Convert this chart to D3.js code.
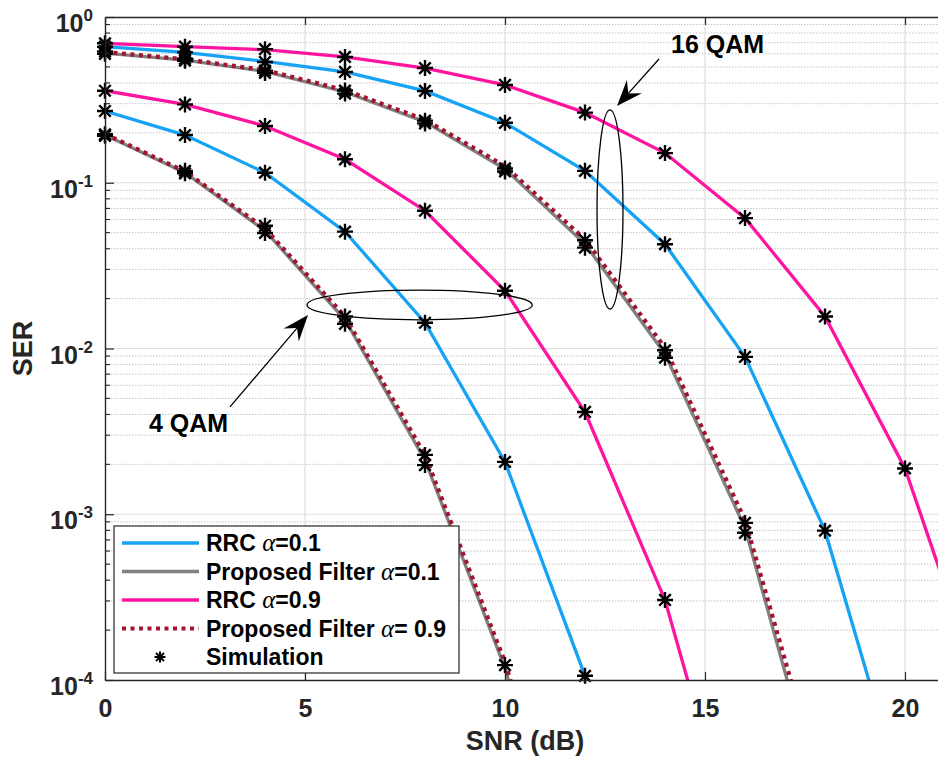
<!DOCTYPE html>
<html>
<head>
<meta charset="utf-8">
<script src="https://cdn.jsdelivr.net/npm/d3@7"></script>
<style>
    body { margin: 0; background: #fff; }
    svg { display: block; font-family: "Liberation Sans", Arial, Helvetica, sans-serif; }
</style>
</head>
<body>
<div id="chart"></div>
<script>
// SNR grid (dB), theory curves are sampled every 2 dB
var snrGrid = [0, 2, 4, 6, 8, 10, 12, 14, 16, 18, 20, 22];

// 4 QAM theory curves
var qam4Rrc01  = [0.271, 0.194, 0.115, 0.0507, 0.0143, 0.00207, 0.000106, 2.5e-6];
var qam4Prop01 = [0.194, 0.115, 0.0514, 0.0149, 0.00212, 0.000118, 2.3e-6];
var qam4Rrc09  = [0.359, 0.297, 0.22, 0.1385, 0.0678, 0.0223, 0.00414, 0.000304, 6e-6];
var qam4Prop09 = [0.197, 0.117, 0.053, 0.0156, 0.00228, 0.000128, 3.2e-6];

// 16 QAM theory curves
var qam16Rrc01  = [0.662, 0.612, 0.54, 0.466, 0.358, 0.230, 0.118, 0.0426, 0.0089, 0.000796, 1.8e-5];
var qam16Prop01 = [0.606, 0.55, 0.47, 0.353, 0.233, 0.121, 0.0427, 0.00927, 0.000826, 1.5e-5];
var qam16Rrc09  = [0.694, 0.662, 0.635, 0.574, 0.492, 0.389, 0.265, 0.151, 0.0612, 0.0156, 0.00189, 7.3e-5];
var qam16Prop09 = [0.615, 0.556, 0.478, 0.362, 0.24, 0.126, 0.0455, 0.0101, 0.00092, 1.9e-5];

// Simulation points (same 2 dB grid)
var sim4Rrc01   = [0.271, 0.194, 0.115, 0.0507, 0.0143, 0.00207, 0.000106];
var sim4Prop01  = [0.196, 0.118, 0.055, 0.0156, 0.00228, 0.000123];
var sim4Rrc09   = [0.359, 0.297, 0.22, 0.1385, 0.0678, 0.0223, 0.00414, 0.000304];
var sim4Prop09  = [0.192, 0.114, 0.0498, 0.0141, 0.00198];
var sim16Rrc01  = [0.662, 0.612, 0.535, 0.466, 0.358, 0.230, 0.118, 0.0426, 0.0089, 0.000796];
var sim16Prop01 = [0.62, 0.56, 0.475, 0.36, 0.237, 0.122, 0.045, 0.00975, 0.000887];
var sim16Rrc09  = [0.694, 0.662, 0.64, 0.574, 0.492, 0.389, 0.265, 0.151, 0.0612, 0.0156, 0.00189];
var sim16Prop09 = [0.60, 0.545, 0.46, 0.345, 0.228, 0.117, 0.0406, 0.0088, 0.000773];

var xTicks = [0, 5, 10, 15, 20];
var yTicks = [1e-4, 1e-3, 1e-2, 1e-1, 1];
var yExponents = ['-4', '-3', '-2', '-1', '0'];

var legendLabels = [
    ['RRC ', '=0.1'],
    ['Proposed Filter ', '=0.1'],
    ['RRC ', '=0.9'],
    ['Proposed Filter ', '= 0.9'],
    ['Simulation', null]
];

// styles
var BLUE = '#16a2f5', GRAY = '#808080', PINK = '#ff14a0', DRED = '#a2142f';
var DOTS = '4,4.5';
var series = [
    { data: qam4Rrc01,  color: BLUE, dash: null },
    { data: qam4Prop01, color: GRAY, dash: null },
    { data: qam4Rrc09,  color: PINK, dash: null },
    { data: qam4Prop09, color: DRED, dash: DOTS },
    { data: qam16Rrc01,  color: BLUE, dash: null },
    { data: qam16Prop01, color: GRAY, dash: null },
    { data: qam16Rrc09,  color: PINK, dash: null },
    { data: qam16Prop09, color: DRED, dash: DOTS }
];
var legendStyles = [
    { color: BLUE, dash: null },
    { color: GRAY, dash: null },
    { color: PINK, dash: null },
    { color: DRED, dash: DOTS },
    { marker: true }
];
var sims = [sim4Rrc01, sim4Prop01, sim4Rrc09, sim4Prop09,
            sim16Rrc01, sim16Prop01, sim16Rrc09, sim16Prop09];

var width = 938, height = 762;
var plotL = 105, plotT = 17, plotR = 945, plotB = 680;
var INK = '#262626';

var x = d3.scaleLinear().domain([0, 21]).range([plotL, plotR]);
var y = d3.scaleLog().domain([1e-4, 1]).range([plotB, plotT]);

var svg = d3.select('#chart').append('svg')
    .attr('width', width)
    .attr('height', height);

svg.append('defs').append('clipPath').attr('id', 'plot-clip')
    .append('rect')
    .attr('x', plotL).attr('y', plotT)
    .attr('width', plotR - plotL).attr('height', plotB - plotT);

// minor grid (y only)
var minorVals = [];
for (var e = -4; e < 0; e++) {
    for (var k = 2; k <= 9; k++) minorVals.push(k * Math.pow(10, e));
}
svg.append('g').selectAll('line')
    .data(minorVals).enter().append('line')
    .attr('x1', plotL).attr('x2', plotR)
    .attr('y1', function(d) { return y(d); })
    .attr('y2', function(d) { return y(d); })
    .attr('stroke', '#c4c4c4')
    .attr('stroke-width', 1)
    .attr('stroke-dasharray', '1.5,1.5');

// major grid
var grid = svg.append('g').attr('stroke', '#dedede').attr('stroke-width', 1.2);
grid.selectAll('.gy').data(yTicks.slice(1, 4)).enter().append('line')
    .attr('x1', plotL).attr('x2', plotR)
    .attr('y1', function(d) { return y(d); })
    .attr('y2', function(d) { return y(d); });
grid.selectAll('.gx').data(xTicks.slice(1)).enter().append('line')
    .attr('y1', plotT).attr('y2', plotB)
    .attr('x1', function(d) { return x(d); })
    .attr('x2', function(d) { return x(d); });

// theory curves
var line = d3.line()
    .x(function(d) { return x(d[0]); })
    .y(function(d) { return y(d[1]); });

var curves = svg.append('g').attr('clip-path', 'url(#plot-clip)');
series.forEach(function(s) {
    var pts = s.data.map(function(v, i) { return [snrGrid[i], v]; });
    curves.append('path')
        .datum(pts)
        .attr('d', line)
        .attr('fill', 'none')
        .attr('stroke', s.color)
        .attr('stroke-width', s.dash ? 4.2 : 3.3)
        .attr('stroke-dasharray', s.dash);
});

// asterisk marker
function starPath(r) {
    var a = r * 0.72;
    return 'M0,' + (-r) + 'L0,' + r +
           'M' + (-r) + ',0L' + r + ',0' +
           'M' + (-a) + ',' + (-a) + 'L' + a + ',' + a +
           'M' + (-a) + ',' + a + 'L' + a + ',' + (-a);
}

var markers = svg.append('g');
sims.forEach(function(arr) {
    markers.selectAll(null)
        .data(arr.map(function(v, i) { return [snrGrid[i], v]; }))
        .enter().append('path')
        .attr('d', starPath(8))
        .attr('transform', function(d) { return 'translate(' + x(d[0]) + ',' + y(d[1]) + ')'; })
        .attr('fill', 'none')
        .attr('stroke', '#000')
        .attr('stroke-width', 2.4);
});

// annotations: ellipses and arrows (data coordinates)
function drawEllipse(x0, x1, yHi, yLo) {
    svg.append('ellipse')
        .attr('cx', (x(x0) + x(x1)) / 2)
        .attr('cy', (y(yHi) + y(yLo)) / 2)
        .attr('rx', (x(x1) - x(x0)) / 2)
        .attr('ry', (y(yLo) - y(yHi)) / 2)
        .attr('fill', 'none')
        .attr('stroke', '#000')
        .attr('stroke-width', 1.3);
}

function drawArrow(sx, sy, tx, ty) {
    var x0 = x(sx), y0 = y(sy), x1 = x(tx), y1 = y(ty);
    var dx = x1 - x0, dy = y1 - y0;
    var len = Math.sqrt(dx * dx + dy * dy);
    var ux = dx / len, uy = dy / len;
    var px = -uy, py = ux;
    var L = 26, W = 10, N = 17;
    svg.append('line')
        .attr('x1', x0).attr('y1', y0)
        .attr('x2', x1 - ux * N).attr('y2', y1 - uy * N)
        .attr('stroke', '#000').attr('stroke-width', 1.3);
    var head = [
        [x1, y1],
        [x1 - ux * L + px * W, y1 - uy * L + py * W],
        [x1 - ux * N, y1 - uy * N],
        [x1 - ux * L - px * W, y1 - uy * L - py * W]
    ];
    svg.append('path')
        .attr('d', 'M' + head.join('L') + 'Z')
        .attr('fill', '#000');
}

drawEllipse(5.05, 10.68, 0.0225, 0.0149);
drawEllipse(12.3, 12.95, 0.275, 0.0173);
drawArrow(3.125, 0.00444, 5.075, 0.0159);
drawArrow(13.85, 0.558, 12.8, 0.29);

svg.append('text')
    .attr('x', x(14.15)).attr('y', y(0.607))
    .attr('font-size', 25).attr('font-weight', 'bold').attr('fill', '#000')
    .text('16 QAM');
svg.append('text')
    .attr('x', x(1.1)).attr('y', y(0.00313))
    .attr('font-size', 25).attr('font-weight', 'bold').attr('fill', '#000')
    .text('4 QAM');

// axes
var xAxisB = d3.axisBottom(x).tickValues(xTicks).tickSizeInner(-8).tickSizeOuter(0).tickPadding(19);
var xAxisT = d3.axisTop(x).tickValues(xTicks).tickSizeInner(-8).tickSizeOuter(0).tickFormat('');

var gxb = svg.append('g').attr('transform', 'translate(0,' + plotB + ')').call(xAxisB);
var gxt = svg.append('g').attr('transform', 'translate(0,' + plotT + ')').call(xAxisT);
[gxb, gxt].forEach(function(g) {
    g.select('.domain').attr('stroke', INK).attr('stroke-width', 1.4);
    g.selectAll('.tick line').attr('stroke', INK).attr('stroke-width', 1.2);
});
gxb.selectAll('.tick text')
    .attr('font-size', 25).attr('font-weight', 'bold').attr('fill', INK)
    .attr('font-family', '"Liberation Sans", Arial, sans-serif');

var yAxis = d3.axisLeft(y).tickValues(yTicks).tickSizeInner(-9).tickSizeOuter(0).tickFormat('');
var gy = svg.append('g').attr('transform', 'translate(' + plotL + ',0)').call(yAxis);
gy.select('.domain').attr('stroke', INK).attr('stroke-width', 1.4);
gy.selectAll('.tick line').attr('stroke', INK).attr('stroke-width', 1.2);

// minor y ticks
gy.selectAll('.minor').data(minorVals).enter().append('line')
    .attr('x1', 0).attr('x2', 5)
    .attr('y1', function(d) { return y(d); })
    .attr('y2', function(d) { return y(d); })
    .attr('stroke', INK).attr('stroke-width', 1.1);

// y tick labels 10^n
var ylab = svg.append('g')
    .attr('font-weight', 'bold').attr('fill', INK)
    .attr('text-anchor', 'end');
yTicks.forEach(function(v, i) {
    var t = ylab.append('text')
        .attr('x', plotL - 12)
        .attr('y', y(v) + 15)
        .attr('font-size', 25);
    t.append('tspan').text('10');
    t.append('tspan').attr('dy', -11).attr('font-size', 17).text(yExponents[i]);
});

// axis labels
svg.append('text')
    .attr('x', (plotL + plotR) / 2).attr('y', 750)
    .attr('text-anchor', 'middle')
    .attr('font-size', 27).attr('font-weight', 'bold').attr('fill', INK)
    .text('SNR (dB)');
svg.append('text')
    .attr('transform', 'translate(32,' + ((plotT + plotB) / 2) + ') rotate(-90)')
    .attr('text-anchor', 'middle')
    .attr('font-size', 27).attr('font-weight', 'bold').attr('fill', INK)
    .text('SER');

// legend
var lg = svg.append('g').attr('transform', 'translate(114,526)');
lg.append('rect')
    .attr('width', 345).attr('height', 147)
    .attr('fill', '#fff').attr('stroke', INK).attr('stroke-width', 1.2);
legendLabels.forEach(function(lab, i) {
    var cy = 17 + i * 28.5;
    var st = legendStyles[i];
    if (st.marker) {
        lg.append('path')
            .attr('d', starPath(5.5))
            .attr('transform', 'translate(46,' + cy + ')')
            .attr('fill', 'none').attr('stroke', '#000').attr('stroke-width', 2);
    } else {
        lg.append('line')
            .attr('x1', 8).attr('x2', 85)
            .attr('y1', cy).attr('y2', cy)
            .attr('stroke', st.color)
            .attr('stroke-width', st.dash ? 4.2 : 3.3)
            .attr('stroke-dasharray', st.dash);
    }
    var t = lg.append('text')
        .attr('x', 92).attr('y', cy + 8)
        .attr('font-size', 23).attr('font-weight', 'bold').attr('fill', '#000');
    t.append('tspan').text(lab[0]);
    if (lab[1] !== null) {
        t.append('tspan')
            .attr('font-family', '"Liberation Serif", "Times New Roman", serif')
            .attr('font-style', 'italic').attr('font-weight', 'normal')
            .attr('font-size', 25)
            .text('\u03b1');
        t.append('tspan').text(lab[1]);
    }
});
</script>
</body>
</html>
